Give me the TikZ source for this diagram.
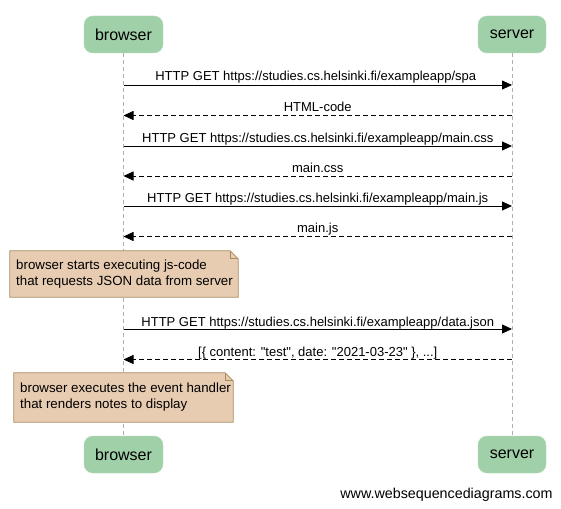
\documentclass[tikz,border=0pt]{standalone}
\usepackage{fontspec}
\setmainfont{Liberation Sans}[Ligatures=TeXOff]
\usetikzlibrary{arrows.meta,calc}
\definecolor{actorfill}{RGB}{160,208,168}
\definecolor{actorline}{RGB}{180,216,186}
\definecolor{notefill}{RGB}{232,204,178}
\definecolor{noteline}{RGB}{168,140,92}
\definecolor{lifeline}{RGB}{175,175,175}
\begin{document}
\begin{tikzpicture}[x=1pt,y=-1pt,
  actor/.style={draw=actorline, fill=actorfill, rounded corners=9pt, minimum width=79pt, minimum height=37pt, font=\fontsize{16}{19}\selectfont, inner sep=0pt},
  srvactor/.style={actor, minimum width=68pt},
  life/.style={draw=lifeline, line width=0.8pt, dash pattern=on 4pt off 3pt},
  req/.style={draw=black, line width=0.8pt, -{Triangle[length=10pt,width=9pt]}},
  resp/.style={req, dash pattern=on 5pt off 3pt},
  lbl/.style={font=\fontsize{13}{15}\selectfont, anchor=base, inner sep=0pt},
  notetext/.style={font=\fontsize{13.3}{16}\selectfont, align=left, inner sep=0pt},
  noteshape/.style={draw=noteline, fill=notefill, line width=0.8pt}
]
\useasboundingbox (0,0) rectangle (561,508);
\fill[white] (0,0) rectangle (561,508);

% actors
\node[actor] (b1) at (123.5,34.5) {browser};
\node[srvactor] (s1) at (512,34.5) {server};
\node[actor] (b2) at (123.5,454.5) {browser};
\node[srvactor] (s2) at (512,454.5) {server};

% lifelines
\draw[life] (b1.south) -- (b2.north);
\draw[life] (s1.south) -- (s2.north);

% message coordinates
\foreach \n/\y in {a/85,b/115.5,c/146,d/176,e/206,f/236.5,g/329,h/359.5}{
  \coordinate (b\n) at (123.5,\y);
  \coordinate (s\n) at (512,\y);
}

\draw[req] (ba) -- (sa);
\node[lbl] (la) at ($(ba)!0.5!(sa)+(-2,-4)$) {HTTP GET https://studies.cs.helsinki.fi/exampleapp/spa};
\draw[resp] (sb) -- (bb);
\node[lbl] (lb) at ($(bb)!0.5!(sb)+(0,-4)$) {HTML-code};
\draw[req] (bc) -- (sc);
\node[lbl] (lc) at ($(bc)!0.5!(sc)+(0,-4)$) {HTTP GET https://studies.cs.helsinki.fi/exampleapp/main.css};
\draw[resp] (sd) -- (bd);
\node[lbl] (ld) at ($(bd)!0.5!(sd)+(0,-4)$) {main.css};
\draw[req] (be) -- (se);
\node[lbl] (le) at ($(be)!0.5!(se)+(0,-4)$) {HTTP GET https://studies.cs.helsinki.fi/exampleapp/main.js};
\draw[resp] (sf) -- (bf);
\node[lbl] (lf) at ($(bf)!0.5!(sf)+(0,-4)$) {main.js};
\draw[req] (bg) -- (sg);
\node[lbl] (lg) at ($(bg)!0.5!(sg)+(0,-3)$) {HTTP GET https://studies.cs.helsinki.fi/exampleapp/data.json};
\draw[resp] (sh) -- (bh);
\node[lbl] (lh) at ($(bh)!0.5!(sh)+(0,-3)$) {[\{ content: "test", date: "2021-03-23" \}, ...]};

% note 1
\node[minimum width=228pt, minimum height=46pt, inner sep=0pt] (n1) at (124,274) {};
\draw[noteshape] (n1.north west) -- ($(n1.north east)+(-8,0)$) -- ($(n1.north east)+(0,8)$) -- (n1.south east) -- (n1.south west) -- cycle;
\draw[draw=noteline, line width=0.8pt] ($(n1.north east)+(-8,0)$) -- ($(n1.north east)+(-8,8)$) -- ($(n1.north east)+(0,8)$);
\node[notetext, anchor=west] (t1) at (16,274.5) {browser starts executing js-code\\that requests JSON data from server};

% note 2
\node[minimum width=219pt, minimum height=49pt, inner sep=0pt] (n2) at (123.5,397.5) {};
\draw[noteshape] (n2.north west) -- ($(n2.north east)+(-8,0)$) -- ($(n2.north east)+(0,8)$) -- (n2.south east) -- (n2.south west) -- cycle;
\draw[draw=noteline, line width=0.8pt] ($(n2.north east)+(-8,0)$) -- ($(n2.north east)+(-8,8)$) -- ($(n2.north east)+(0,8)$);
\node[notetext, anchor=west] (t2) at (20,397) {browser executes the event handler\\that renders notes to display};

% watermark
\node[lbl, font=\fontsize{14.3}{17}\selectfont] (wm) at (446.5,498) {www.websequencediagrams.com};
\end{tikzpicture}
\end{document}
